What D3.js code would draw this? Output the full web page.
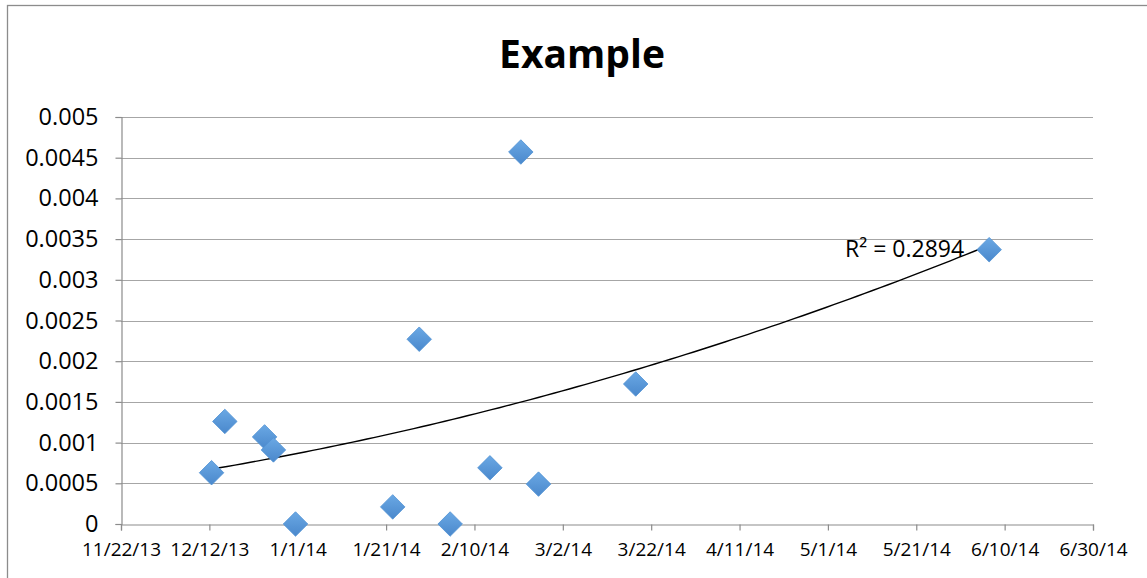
<!DOCTYPE html>
<html>
<head>
<meta charset="utf-8">
<script src="https://cdn.jsdelivr.net/npm/d3@7"></script>
<style>
  html, body { margin: 0; padding: 0; background: #fff; }
  svg { display: block; font-family: "Open Sans", "Noto Sans", sans-serif; }
</style>
</head>
<body>
<svg id="chart" width="1147" height="578"></svg>
<script>
// Observation dates (midday) and measured values
const dates = ["2013-12-12", "2013-12-15", "2013-12-24", "2013-12-26", "2013-12-31",
               "2014-01-22", "2014-01-28", "2014-02-04", "2014-02-13", "2014-02-20",
               "2014-02-24", "2014-03-18", "2014-06-06"];
const values = [0.00063, 0.00126, 0.00107, 0.00091, 0,
                0.00021, 0.00227, 0, 0.00069, 0.00457,
                0.00049, 0.00172, 0.00337];

// Axis ticks
const xTickDates = ["2013-11-22", "2013-12-12", "2014-01-01", "2014-01-21", "2014-02-10", "2014-03-02",
                    "2014-03-22", "2014-04-11", "2014-05-01", "2014-05-21", "2014-06-10", "2014-06-30"];
const yTicks = [0, 0.0005, 0.001, 0.0015, 0.002, 0.0025, 0.003, 0.0035, 0.004, 0.0045, 0.005];

const titleText = "Example";
const r2Text = "R\u00B2 = 0.2894";

const parse = d3.utcParse("%Y-%m-%d");
const parseNoon = d3.utcParse("%Y-%m-%dT%H");
const points = dates.map((d, i) => ({ date: parseNoon(d + "T12"), value: values[i] }));
const tickDates = xTickDates.map(parse);

const svg = d3.select("#chart");
const W = 1147, H = 578;
const plot = { left: 121, right: 1093, top: 117, bottom: 524 };

// Outer chart border
svg.append("rect")
  .attr("x", 7.5).attr("y", 5.5)
  .attr("width", W + 20).attr("height", H + 20)
  .attr("fill", "#fff").attr("stroke", "#8c8c8c").attr("stroke-width", 1.3);

const x = d3.scaleUtc()
  .domain([tickDates[0], tickDates[tickDates.length - 1]])
  .range([plot.left, plot.right]);
const y = d3.scaleLinear()
  .domain([0, 0.005])
  .range([plot.bottom, plot.top]);

// Horizontal gridlines
svg.append("g")
  .selectAll("line")
  .data(yTicks.filter(v => v > 0))
  .join("line")
  .attr("x1", plot.left).attr("x2", plot.right)
  .attr("y1", d => Math.round(y(d)) + 0.5).attr("y2", d => Math.round(y(d)) + 0.5)
  .attr("stroke", "#a6a6a6").attr("stroke-width", 1.2);

// Y axis
const yAxis = svg.append("g")
  .attr("transform", `translate(${plot.left + 0.5},0)`)
  .call(d3.axisLeft(y).tickValues(yTicks).tickSize(6).tickPadding(17).tickFormat(d => String(+d.toFixed(4))));
yAxis.select(".domain").attr("stroke", "#8c8c8c").attr("stroke-width", 1.2);
yAxis.selectAll(".tick line").attr("stroke", "#8c8c8c").attr("stroke-width", 1.2);
yAxis.selectAll(".tick text")
  .attr("font-size", 23.5).attr("fill", "#000").attr("font-family", "'Open Sans', sans-serif");

// X axis
const fmt = d3.utcFormat("%-m/%-d/%y");
const xAxis = svg.append("g")
  .attr("transform", `translate(0,${plot.bottom + 0.5})`)
  .call(d3.axisBottom(x).tickValues(tickDates).tickSize(6).tickPadding(12).tickFormat(fmt));
xAxis.select(".domain").attr("stroke", "#8c8c8c").attr("stroke-width", 1.2);
xAxis.selectAll(".tick line").attr("stroke", "#8c8c8c").attr("stroke-width", 1.2);
xAxis.selectAll(".tick text")
  .attr("font-size", 19).attr("fill", "#000").attr("font-family", "'Open Sans', sans-serif");

// Polynomial (order 2) least-squares trendline, t in days from first tick
const day = 864e5;
const t0 = tickDates[0].getTime();
const ts = points.map(p => (p.date.getTime() - t0) / day);
function polyFit2(xs, ys) {
  const n = xs.length;
  let s = [0, 0, 0, 0, 0], r = [0, 0, 0];
  for (let i = 0; i < n; i++) {
    let p = 1;
    for (let k = 0; k < 5; k++) { s[k] += p; if (k < 3) r[k] += p * ys[i]; p *= xs[i]; }
  }
  const A = [[s[0], s[1], s[2], r[0]], [s[1], s[2], s[3], r[1]], [s[2], s[3], s[4], r[2]]];
  for (let c = 0; c < 3; c++) {
    for (let rI = c + 1; rI < 3; rI++) {
      const f = A[rI][c] / A[c][c];
      for (let k = c; k < 4; k++) A[rI][k] -= f * A[c][k];
    }
  }
  const b = [0, 0, 0];
  for (let i = 2; i >= 0; i--) {
    let v = A[i][3];
    for (let k = i + 1; k < 3; k++) v -= A[i][k] * b[k];
    b[i] = v / A[i][i];
  }
  return b;
}
const coef = polyFit2(ts, values);
const trend = t => coef[0] + coef[1] * t + coef[2] * t * t;
const tMin = d3.min(ts), tMax = d3.max(ts);
const trendPts = d3.range(0, 101).map(i => tMin + (tMax - tMin) * i / 100);

svg.append("path")
  .datum(trendPts)
  .attr("fill", "none").attr("stroke", "#000").attr("stroke-width", 1.4)
  .attr("d", d3.line()
    .x(t => x(new Date(t0 + t * day)))
    .y(t => y(trend(t))));

// Diamond markers
const defs = svg.append("defs");
const grad = defs.append("linearGradient").attr("id", "markerFill")
  .attr("x1", 0).attr("y1", 0).attr("x2", 1).attr("y2", 1);
grad.append("stop").attr("offset", "0%").attr("stop-color", "#6aa8e4");
grad.append("stop").attr("offset", "100%").attr("stop-color", "#4a88cc");

const diamond = d3.symbol(d3.symbolSquare, 300)();
svg.append("g")
  .selectAll("path")
  .data(points)
  .join("path")
  .attr("d", diamond)
  .attr("transform", d => `translate(${x(d.date)},${y(d.value)}) rotate(45)`)
  .attr("fill", "url(#markerFill)")
  .attr("stroke", "#5393d4").attr("stroke-width", 0.8);

// R-squared label near the end of the trendline
const last = points[points.length - 1];
svg.append("text")
  .attr("x", x(last.date) - 25)
  .attr("y", y(trend(tMax)) + 12)
  .attr("text-anchor", "end")
  .attr("font-size", 23)
  .attr("fill", "#000")
  .text(r2Text);

// Title
svg.append("text")
  .attr("x", 582)
  .attr("y", 68)
  .attr("text-anchor", "middle")
  .attr("font-size", 39)
  .attr("font-weight", "bold")
  .attr("fill", "#000")
  .text(titleText);
</script>
</body>
</html>
